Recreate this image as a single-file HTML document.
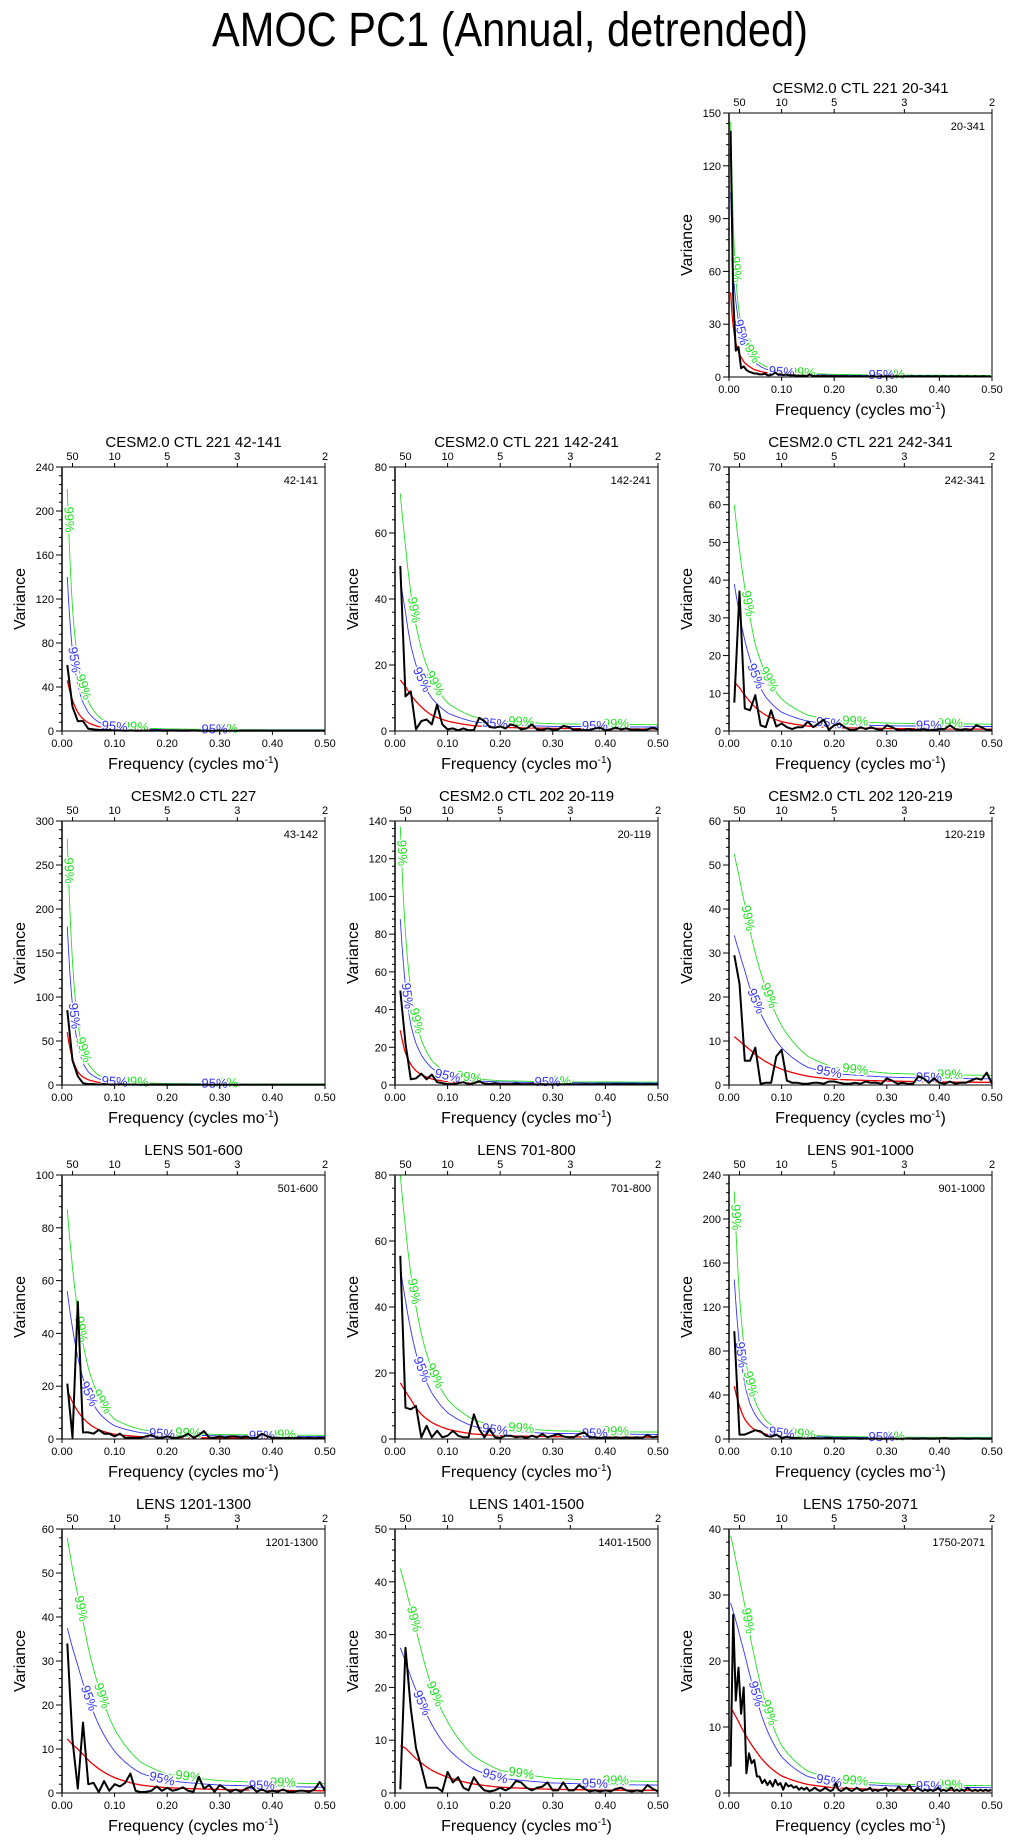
<!DOCTYPE html>
<html><head><meta charset="utf-8"><style>
html,body{margin:0;padding:0;background:#fff;}
svg{display:block;font-family:"Liberation Sans",sans-serif;}
</style></head><body>
<svg id="fig" width="1011" height="1842" viewBox="0 0 1011 1842" xmlns="http://www.w3.org/2000/svg">
<text x="212" y="46" font-size="48" textLength="596" lengthAdjust="spacingAndGlyphs">AMOC PC1 (Annual, detrended)</text>
</svg>
<script>
// shared grids (frequency, cycles per month units as plotted)
const gridStd = [0.01,0.02,0.03,0.04,0.05,0.07,0.1,0.15,0.2,0.3,0.4,0.5];
const gridLong = [0.003,0.006,0.01,0.015,0.02,0.03,0.05,0.07,0.1,0.15,0.2,0.3,0.4,0.5];
const topPeriods = [50,10,5,3,2];
const xTicks = [0,0.1,0.2,0.3,0.4,0.5];
const xTickLabels = ["0.00","0.10","0.20","0.30","0.40","0.50"];

// panel titles and range labels
const titles = ["CESM2.0 CTL 221 20-341","CESM2.0 CTL 221 42-141","CESM2.0 CTL 221 142-241","CESM2.0 CTL 221 242-341","CESM2.0 CTL 227","CESM2.0 CTL 202 20-119","CESM2.0 CTL 202 120-219","LENS 501-600","LENS 701-800","LENS 901-1000","LENS 1201-1300","LENS 1401-1500","LENS 1750-2071"];
const ranges = ["20-341","42-141","142-241","242-341","43-142","20-119","120-219","501-600","701-800","901-1000","1201-1300","1401-1500","1750-2071"];
const yMax = [150,240,80,70,300,140,60,100,80,240,60,50,40];
const yStep = [30,40,20,10,50,20,10,20,20,40,10,10,10];

// red-noise, 95%, 99% curves
const red = [
[48,35,24,17,13,8,4,2.5,1.5,0.8,0.6,0.4,0.35,0.3],
[46,28,17,11,7.5,4,1.8,1,0.7,0.5,0.4,0.4],
[15.5,13.5,11,9,7.3,4.8,3,1.6,1.1,0.8,0.65,0.6],
[13,11.5,9.5,7.8,6.3,4.2,2.5,1.3,0.9,0.65,0.55,0.5],
[60,30,15,9,6,3,1.5,0.8,0.6,0.4,0.35,0.3],
[29,17,11,7.5,5.5,3.2,1.8,1,0.7,0.5,0.45,0.4],
[11,10,9,8,7,5.3,3.6,2,1.3,0.9,0.7,0.6],
[18.5,14,10.5,8,6,3.5,1.8,0.9,0.6,0.4,0.35,0.3],
[17,14.5,12,9.5,7.5,5,3,1.5,1,0.7,0.6,0.55],
[48,30,18,12,8,4.5,2,1,0.7,0.5,0.4,0.4],
[12.3,11,10,8.8,7.5,5.5,3.5,1.8,1.2,0.8,0.6,0.5],
[9,8.5,7.5,6.5,5.7,4.3,3,1.7,1.1,0.7,0.55,0.5],
[13,12.6,12,11.3,10.5,9,6.5,4.5,2.6,1.3,0.8,0.5,0.4,0.35]];
const blue = [
[105,78,52,38,28,17,8,4.5,2.5,1.4,1,0.8,0.7,0.6],
[140,72,42,26,17,8,3.5,1.8,1.2,0.9,0.8,0.8],
[46,36,26,20,15.5,10,5.5,2.8,1.9,1.4,1.3,1.2],
[39,31,24,19,14.5,9,5,2.6,1.8,1.4,1.25,1.2],
[180,90,45,25,15,7,3,1.5,1,0.8,0.7,0.7],
[88,52,32,22,16,9,4.5,2.3,1.6,1.2,1.1,1],
[34,30,26,22,19,14,8.5,4,2.6,1.8,1.5,1.4],
[56,42,31,23,17,10,5,2.4,1.6,1.2,1,1],
[52,42,33,26,21,14,8,3.8,2.4,1.7,1.5,1.4],
[145,85,50,32,22,11,5,2.4,1.6,1.2,1,1],
[37.5,33,29,25,21.5,15.5,9.5,4.5,2.8,1.8,1.5,1.3],
[27.5,25,22,19.5,17,13,8.5,4.5,2.8,1.9,1.6,1.5],
[28.8,28,27,25.5,24,21,15,10,5.5,2.5,1.6,1.1,0.9,0.8]];
const green = [
[145,110,72,48,35,22,10,6,3.5,2,1.5,1.1,1,0.9],
[220,112,62,40,27,13,5.5,2.8,1.9,1.4,1.2,1.2],
[72,56,42,32,25,16,8.5,4.3,3,2.2,2,1.9],
[60,48,38,30,23,15,8.5,4.2,2.8,2.1,1.9,1.8],
[280,140,70,40,24,11,5,2.5,1.7,1.3,1.2,1.2],
[137,80,50,34,24,13,6.5,3.3,2.3,1.7,1.6,1.5],
[52.5,47,41,35,30,22,13.5,6.5,4,2.7,2.3,2.2],
[87,65,48,36,27,16,7.5,3.6,2.4,1.7,1.5,1.4],
[80,64,50,40,32,21,12,5.8,3.7,2.5,2.2,2.1],
[225,130,78,50,34,17,7.5,3.6,2.4,1.8,1.5,1.5],
[58,51,45,39,33,24,14.5,7,4.3,2.8,2.3,2.1],
[42.5,39,35,31,27,20,13.5,7,4.3,2.8,2.3,2.2],
[39,38,36.5,34.5,32.5,28.5,20,13.5,7.2,3.3,2.1,1.4,1.2,1.1]];

// spectrum: start frequency, step, values
const specStart = [0.003,0.01,0.01,0.01,0.01,0.01,0.01,0.01,0.01,0.01,0.01,0.01,0.003];
const specStep = [0.005,0.01,0.01,0.01,0.01,0.01,0.01,0.01,0.01,0.01,0.01,0.01,0.005];
const spec = [
[140,45,15,17,5,6,4,3,2.5,2,2,1.5,1.5,2,1,1,1.5,2.5,1.5,1.5,1,1.5,1,1,1,0.8,0.8,0.8,0.8,0.5,1.5,0.8,0.5,0.5,0.3,0.5,0.5,0.3,0.5,0.3,0.5,0.3,0.5,0.3,0.5,0.3,0.3,0.5,0.3,0.5,0.3,0.3,0.5,0.3,0.5,0.3,0.3,0.5,0.3,0.3,0.5,0.3,0.3,0.5,0.3,0.3,0.5,0.3,0.3,0.5,0.3,0.3,0.5,0.3,0.3,0.5,0.3,0.3,0.5,0.3,0.3,0.5,0.3,0.3,0.5,0.3,0.3,0.5,0.3,0.3,0.5,0.3,0.3,0.5,0.3,0.3,0.5,0.3,0.3,0.3],
[60,22,9,9,2,1.5,1,1,0.8,0.5,0.5,0.3,0.5,0.3,0.3,0.5,0.3,0.5,0.3,0.3,0.5,0.3,0.3,0.3,0.5,0.3,0.3,0.3,0.3,0.5,0.3,0.3,0.3,0.3,0.3,0.3,0.3,0.3,0.3,0.3,0.3,0.3,0.3,0.3,0.3,0.3,0.3,0.3,0.3,0.3],
[50,10.5,12,0.5,3,3.5,2,8,2,0.5,0.8,0.2,0.8,0.2,0.3,4,3,1.2,1,1.4,0.8,2,1.5,0.5,0.8,2,0.5,0.3,0.8,0.4,0.5,1.5,1.2,0.3,0.5,0.2,0.3,0.8,1,0.2,0.5,1,0.5,0.8,0.3,0.5,0.2,0.5,1,0.5],
[7.5,37,6,5.5,9.5,1.5,1,5.5,1.2,2,1,0.5,1,1,2.5,1,2,3,0.3,1.5,2,1,0.3,0.3,1,0.5,1,0.5,0.2,1.5,1,0.3,0.2,0.5,0.3,0.3,0.5,0.2,0.3,0.5,0.5,1.5,0.5,0.3,0.5,0.2,1.5,1,0.3,0.2],
[85,28,10,2,1,1,0.5,1,0.5,0.5,0.8,0.5,0.5,0.5,0.3,0.5,0.3,0.3,0.5,0.3,0.3,0.3,0.5,0.3,0.3,0.3,0.3,0.3,0.3,0.3,0.3,0.3,0.3,0.3,0.3,0.3,0.3,0.3,0.3,0.3,0.3,0.3,0.3,0.3,0.3,0.3,0.3,0.3,0.3,0.3],
[50,22,3,3.5,6,3,5.5,1.5,1,0.5,0.5,1,1.5,0.5,1,2,0.8,0.5,1,0.5,0.5,0.3,0.8,0.5,0.3,0.5,0.3,0.5,0.3,0.3,0.5,0.3,0.5,0.3,0.3,0.5,0.3,0.3,0.5,0.3,0.3,0.5,0.3,0.3,0.5,0.3,0.3,0.5,0.3,0.3],
[29.5,23,5.5,5.5,8.5,0.3,0.5,0.5,6.5,8,1,0.5,0.5,0.3,0.3,0.5,0.5,0.3,0.8,0.8,0.5,0.3,0.3,0.5,0.3,0.8,0.5,0.5,0.3,1.5,1,0.3,0.5,0.3,0.3,2,1.5,0.5,1.5,0.5,0.3,0.8,0.3,0.5,0.5,1,1.5,1.2,2.8,0.3],
[21,0.5,52,2.5,2.5,2,3.5,2,2,1,2,0.5,0.5,0.5,0.5,1,1.5,0.5,0.5,1,0.5,0.5,1,2,0.5,1.5,3,0.5,0.5,1,0.5,1,1,0.5,1,0.3,0.5,2,1,0.5,0.5,0.3,0.5,0.3,0.5,0.3,0.5,0.3,0.5,0.3],
[55.5,9.5,9,10,0.5,4,0.5,2.5,0.5,1,2.5,1,0.5,0.5,7.5,3,0.5,3,0.5,0.3,1,1,0.5,0.8,0.3,1,0.5,1.5,0.5,1,1.5,0.8,0.5,0.5,1.5,2,0.5,0.5,0.3,0.5,0.3,0.5,0.3,0.5,0.3,0.5,0.3,1.2,0.5,0.8],
[98,4,4,6,8,7,3,2,4,1,2,1,1,0.5,0.5,1,0.5,0.5,1,0.5,0.5,0.3,0.5,0.5,0.3,0.5,0.3,0.5,0.3,0.3,0.5,0.3,0.3,0.5,0.3,0.3,0.5,0.3,0.3,0.5,0.8,0.3,0.3,0.5,0.3,0.3,0.5,0.3,0.3,0.3],
[34,12,1,16,2,2.3,0.2,2.7,0.5,2,1.5,2.3,4.4,0.5,0.2,0.3,0.5,1.5,0.5,1.2,0.5,0.8,1.3,0.5,0.3,3.7,1,1.8,0.3,1.8,1,0.3,0.8,0.3,1,1.5,0.3,0.8,0.3,0.5,0.3,0.8,0.3,0.3,0.5,0.5,0.3,0.8,2.5,0.5],
[0.7,27.5,16,8.5,5,1,1,1,0.3,4,2,3,1,0.5,3,1.5,0.5,0.3,0.5,1,0.5,1,2.3,2,1,0.5,1,1.2,2,0.5,0.5,2,0.5,0.5,1.5,0.8,0.3,0.5,0.3,0.5,0.3,0.8,1,0.5,0.3,0.5,0.3,1.5,0.8,0.3],
[4,27,14,19,12,16,3,6,4.5,5,2.5,2.5,1.5,2,1.2,1.8,1,2,1.2,1.5,0.5,1.5,1,1.2,0.8,1,0.5,0.8,0.5,0.8,0.3,0.5,0.8,0.5,0.3,0.5,0.8,0.5,0.3,0.5,1.5,0.5,0.3,0.5,0.8,0.5,0.3,0.5,0.8,0.5,0.3,0.5,0.5,0.8,0.3,0.5,0.3,0.5,0.5,0.8,0.3,0.5,0.3,0.5,1,0.5,0.3,0.5,1.2,0.5,0.3,0.8,0.5,0.3,0.5,0.3,0.5,0.3,0.5,0.8,0.3,0.5,0.3,0.5,0.8,0.3,0.5,0.3,0.5,0.3,0.8,0.5,0.3,0.5,0.3,0.5,0.3,0.5,0.3,0.5]];

// label frequencies along the significance curves
const steepPanels = [0,1,4,5,9];
const g99Steep = [0.012,0.04,0.14,0.31];
const b95Steep = [0.022,0.1,0.29];
const g99Smooth = [0.035,0.075,0.24,0.42];
const b95Smooth = [0.05,0.19,0.38];

const NS = "http://www.w3.org/2000/svg";
const svg = document.getElementById('fig');
const colX = [62,395,729], rowY = [113,467,821,1175,1529];
const PW = 263, PH = 264;
function mk(tag, attrs, parent){
  const e = document.createElementNS(NS, tag);
  for (const k in attrs) e.setAttribute(k, attrs[k]);
  (parent||svg).appendChild(e); return e;
}
function interp(grid, vals, f){
  if (f <= grid[0]) return vals[0];
  for (let i=1;i<grid.length;i++){
    if (f <= grid[i]){
      const t=(f-grid[i-1])/(grid[i]-grid[i-1]);
      // log interpolation for smooth decay
      return Math.exp(Math.log(vals[i-1])*(1-t)+Math.log(vals[i])*t);
    }
  }
  return vals[vals.length-1];
}

for (let p=0;p<13;p++){
  const col = p===0 ? 2 : (p-1)%3;
  const row = p===0 ? 0 : 1+Math.floor((p-1)/3);
  const L = colX[col], T = rowY[row], R = L+PW, B = T+PH;
  const xs = f => L + f/0.5*PW;
  const ys = v => B - Math.min(v,yMax[p])/yMax[p]*PH;
  const grid = red[p].length === gridLong.length ? gridLong : gridStd;
  const g = mk('g', {});
  
  

  // curves
  function curve(vals, color, w, name){
    let d = '';
    const f0 = grid[0];
    for (let f=f0; f<=0.5001; f+=0.0025){
      d += (d?'L':'M') + xs(f).toFixed(1) + ',' + ys(interp(grid, vals, f)).toFixed(1);
    }
    const path = mk('path', {d:d, fill:'none', stroke:color, 'stroke-width':w}, g);
    
    
  }
  curve(green[p], '#22e022', 0.9, 'curve-99pct');
  curve(blue[p], '#3333ff', 0.9, 'curve-95pct');
  curve(red[p], '#ee0000', 1.3, 'curve-red-noise');

  // curve labels
  const steep = steepPanels.includes(p);
  function labels(fs, vals, color, txt, name){
    fs.forEach(f => {
      const x = xs(f), y = ys(interp(grid, vals, f));
      const x2 = xs(f+0.003), y2 = ys(interp(grid, vals, f+0.003));
      const ang = Math.atan2(y2-y, x2-x)*180/Math.PI;
      const t = mk('text', {x:x, y:y, 'font-size':13, fill:color, 'text-anchor':'middle', 'dominant-baseline':'middle',
        stroke:'#fff', 'stroke-width':3, 'paint-order':'stroke', transform:'rotate('+ang.toFixed(1)+' '+x.toFixed(1)+' '+y.toFixed(1)+')'}, g);
      t.textContent = txt;
      
      
    });
  }
  labels(steep?g99Steep:g99Smooth, green[p], '#22e022', '99%', 'label-99pct');
  labels(steep?b95Steep:b95Smooth, blue[p], '#3333ff', '95%', 'label-95pct');

  // spectrum
  let d='';
  spec[p].forEach((v,i)=>{
    const f = specStart[p] + i*specStep[p];
    if (f>0.5) return;
    d += (d?'L':'M') + xs(f).toFixed(1) + ',' + ys(v).toFixed(1);
  });
  const sp = mk('path', {d:d, fill:'none', stroke:'#000', 'stroke-width':2, 'stroke-linejoin':'round'}, g);
  
  

  // frame
  const fr = mk('rect', {x:L, y:T, width:PW, height:PH, fill:'none', stroke:'#000', 'stroke-width':1}, g);
  
  
  mk('line', {x1:L, y1:T, x2:L, y2:B, stroke:'#444', 'stroke-width':2}, g);

  // y ticks
  const minor = yStep[p]/5;
  for (let v=0; v<=yMax[p]+1e-6; v+=minor){
    const isMajor = Math.abs(v/yStep[p]-Math.round(v/yStep[p]))<1e-6;
    mk('line', {x1:L-(isMajor?6:3), y1:ys(v), x2:L, y2:ys(v), stroke:'#000', 'stroke-width':1}, g);
    if (isMajor){
      const t = mk('text', {x:L-8, y:ys(v)+4, 'font-size':11, 'text-anchor':'end'}, g);
      t.textContent = Math.round(v);
      
      
    }
  }
  // x ticks
  xTicks.forEach((f,i)=>{
    mk('line', {x1:xs(f), y1:B, x2:xs(f), y2:B+4, stroke:'#000', 'stroke-width':1}, g);
    const t = mk('text', {x:xs(f), y:B+16, 'font-size':11, 'text-anchor':'middle'}, g);
    t.textContent = xTickLabels[i];
    
    
  });
  // top period axis
  topPeriods.forEach(per=>{
    const x = xs(1/per);
    mk('line', {x1:x, y1:T-4, x2:x, y2:T, stroke:'#000', 'stroke-width':1}, g);
    const t = mk('text', {x:x, y:T-7, 'font-size':11, 'text-anchor':'middle'}, g);
    t.textContent = per;
    
    
  });
  // titles
  const tt = mk('text', {x:L+PW/2, y:T-20, 'font-size':15, 'text-anchor':'middle'}, g);
  tt.textContent = titles[p];
  
  
  const rl = mk('text', {x:R-7, y:T+17, 'font-size':11, 'text-anchor':'end'}, g);
  rl.textContent = ranges[p];
  
  
  const yt = mk('text', {x:L-37, y:T+PH/2, 'font-size':16, 'text-anchor':'middle', transform:'rotate(-90 '+(L-37)+' '+(T+PH/2)+')'}, g);
  yt.textContent = 'Variance';
  
  
  const xt = mk('text', {x:L+PW/2, y:B+38, 'font-size':16, 'text-anchor':'middle'}, g);
  
  
  xt.appendChild(document.createTextNode('Frequency (cycles mo'));
  const sup = mk('tspan', {'font-size':10, dy:-6}, xt);
  sup.textContent = '-1';
  const cl = mk('tspan', {dy:6}, xt);
  cl.textContent = ')';
}
</script>
</body></html>
